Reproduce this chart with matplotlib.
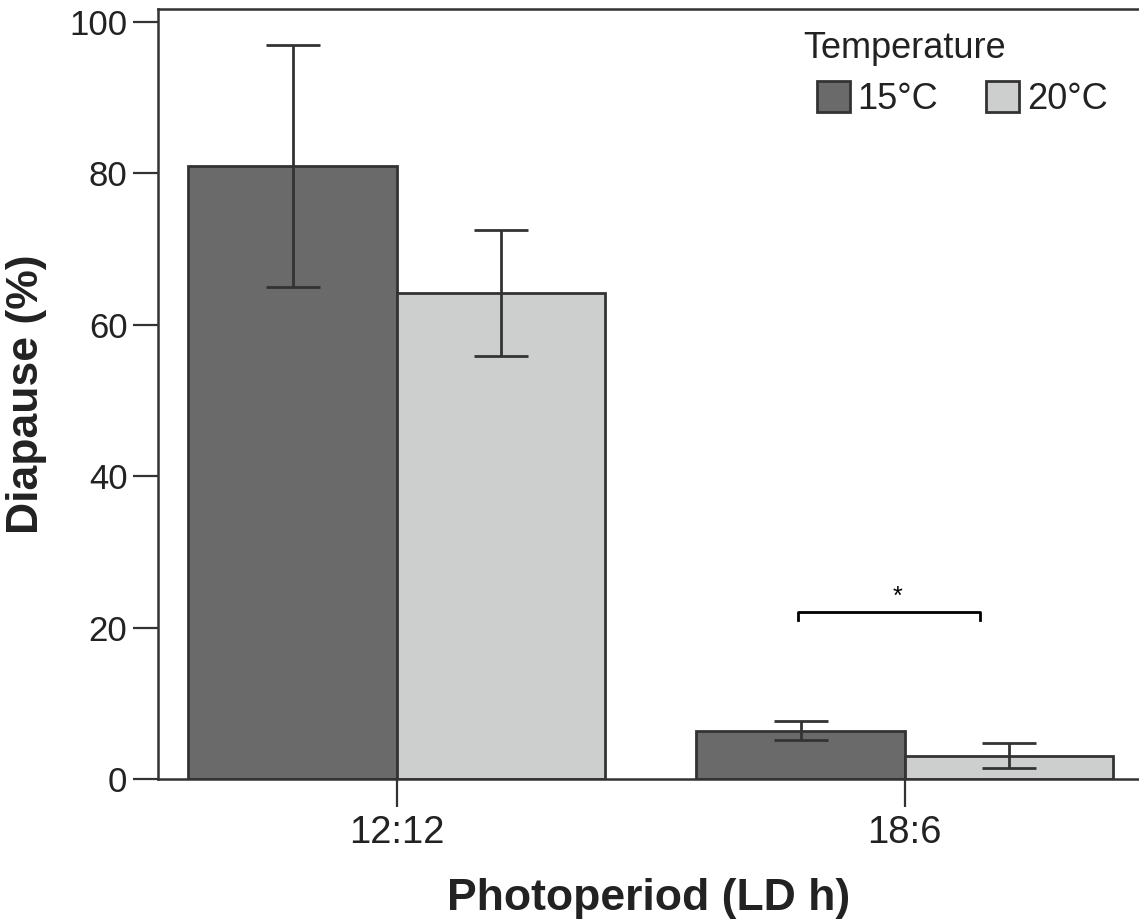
import matplotlib
matplotlib.use("Agg")
import matplotlib.pyplot as plt
from matplotlib.patches import Patch
import numpy as np

plt.rcParams['font.family'] = ['Liberation Sans', 'DejaVu Sans']

photoperiods = ["12:12", "18:6"]
temperatures = ["15°C", "20°C"]
diapause_15 = [81.0, 6.4]
diapause_20 = [64.2, 3.1]
err_15 = [16.0, 1.2]
err_20 = [8.3, 1.6]
bar_colors = ["#6a6a6a", "#cdcfce"]
edge = "#333333"
text_col = "#222222"

W, H = 1139, 919
fig = plt.figure(figsize=(W / 100, H / 100), dpi=100)
ax = fig.add_axes([0.1387, 0.1523, 0.8613, 0.8379])

x = np.arange(len(photoperiods))
w = 0.41
for vals, errs, col, off in [(diapause_15, err_15, bar_colors[0], -w / 2),
                             (diapause_20, err_20, bar_colors[1], w / 2)]:
    ax.bar(x + off, vals, width=w, color=col, edgecolor=edge, linewidth=2.0, zorder=2)
    ax.errorbar(x + off, vals, yerr=errs, fmt='none', ecolor=edge,
                elinewidth=2.0, capsize=19.5, capthick=2.0, zorder=3)

# significance bracket between the 18:6 groups
bx0, bx1, by = 1 - 0.211, 1 + 0.149, 22.0
ax.plot([bx0, bx0, bx1, bx1], [by - 1.0, by, by, by - 1.0], color="black", lw=2.0, zorder=3)
ax.text(0.986, by + 0.5, "*", ha="center", va="bottom", fontsize=18)

ax.set_xlim(-0.470, 1.461)
ax.set_ylim(0, 101.7)
ax.set_yticks([0, 20, 40, 60, 80, 100])
ax.set_xticks(x)
ax.set_xticklabels(photoperiods)
ax.tick_params(axis='y', labelsize=25, length=18, width=1.6, color=edge, labelcolor=text_col, pad=4)
ax.tick_params(axis='x', labelsize=27.5, length=20, width=1.6, color=edge, labelcolor=text_col, pad=6)
for s in ax.spines.values():
    s.set_linewidth(1.8)
    s.set_color(edge)
ax.spines['right'].set_visible(False)

ax.set_ylabel("Diapause (%)", fontsize=32, fontweight="bold", color=text_col, labelpad=16)
ax.set_xlabel("Photoperiod (LD h)", fontsize=32, fontweight="bold", color=text_col, labelpad=19)

# legend: title drawn as text, entries as a two-column legend beneath it
fig.text(803 / W, 1 - 48 / H, "Temperature", fontsize=26, color=text_col,
         ha="left", va="center")
handles = [Patch(facecolor=bar_colors[i], edgecolor=edge, linewidth=2.0, label=temperatures[i])
           for i in range(2)]
leg = fig.legend(handles=handles, ncol=2, frameon=False, fontsize=26,
                 loc="center left", bbox_to_anchor=(817 / W, 1 - 99 / H),
                 borderaxespad=0, borderpad=0, handlelength=0.92, handleheight=0.92,
                 handletextpad=0.2, columnspacing=1.33)
for t in leg.get_texts():
    t.set_color(text_col)

fig.savefig("out.png", dpi=100)
